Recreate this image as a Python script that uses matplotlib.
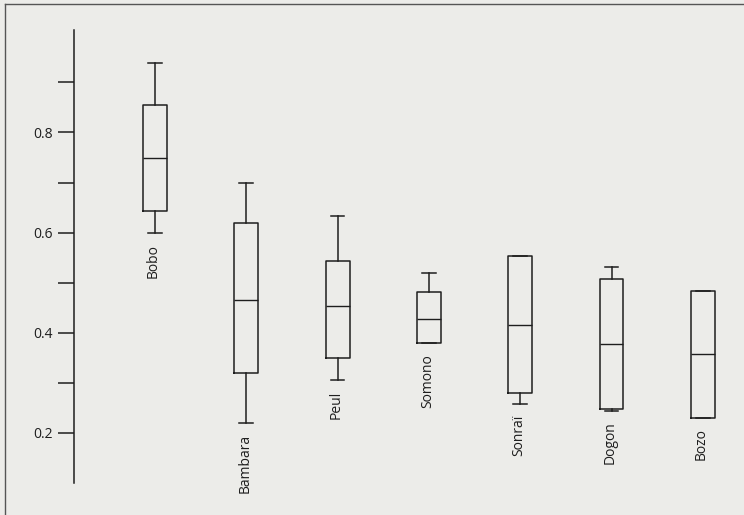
import matplotlib.pyplot as plt
from matplotlib.lines import Line2D

# ethnic groups and box statistics
groups = ["Bobo", "Bambara", "Peul", "Somono", "Sonraï", "Dogon", "Bozo"]
whisker_low = [0.599, 0.219, 0.306, 0.379, 0.257, 0.244, 0.230]
q1 = [0.642, 0.319, 0.349, 0.379, 0.280, 0.248, 0.230]
median = [0.748, 0.466, 0.454, 0.428, 0.416, 0.377, 0.357]
q3 = [0.855, 0.618, 0.543, 0.482, 0.552, 0.507, 0.483]
whisker_high = [0.940, 0.700, 0.633, 0.518, 0.552, 0.531, 0.483]

major_ticks = [0.2, 0.4, 0.6, 0.8]
minor_ticks = [0.3, 0.5, 0.7, 0.9]

bg = "#ecece9"
ink = "#1e1e1e"

plt.rcParams['font.family'] = ['Open Sans', 'DejaVu Sans']

fig = plt.figure(figsize=(7.44, 5.15), dpi=100, facecolor=bg)
ax = fig.add_axes([74 / 744, 32 / 515, 670 / 744, 453 / 515], facecolor=bg)

stats = []
for i, g in enumerate(groups):
    stats.append({
        "label": g,
        "whislo": whisker_low[i],
        "q1": q1[i],
        "med": median[i],
        "q3": q3[i],
        "whishi": whisker_high[i],
        "fliers": [],
    })

positions = list(range(1, len(groups) + 1))
line_kw = dict(color=ink, linewidth=1.1)
ax.bxp(stats, positions=positions, widths=0.26, showfliers=False,
       boxprops=line_kw, medianprops=dict(color=ink, linewidth=1.0),
       whiskerprops=line_kw, capprops=line_kw, capwidths=0.15,
       manage_ticks=False)

# group names written vertically under each box
for pos, g, lo in zip(positions, groups, whisker_low):
    ax.annotate(g, xy=(pos, lo), xytext=(-1, -8), textcoords="offset points",
                rotation=90, ha="center", va="top", fontsize=10, color=ink)

ax.set_xlim(0.113, 7.45)
ax.set_ylim(0.099, 1.005)

ax.set_yticks(major_ticks)
ax.set_yticklabels([f"{t:.1f}" for t in major_ticks])
ax.set_yticks(minor_ticks, minor=True)
ax.tick_params(axis="y", which="both", length=11.5, width=1.1, color=ink,
               labelsize=10, labelcolor=ink, pad=3.5)
ax.set_xticks([])

for side in ["top", "right", "bottom"]:
    ax.spines[side].set_visible(False)
ax.spines["left"].set_linewidth(1.1)
ax.spines["left"].set_color(ink)

# thin frame on the top and left edges of the scan
fig.add_artist(Line2D([5 / 744, 5 / 744], [0, 1 - 4 / 515],
                      transform=fig.transFigure, color="#555555", linewidth=1.0))
fig.add_artist(Line2D([5 / 744, 1], [1 - 4 / 515, 1 - 4 / 515],
                      transform=fig.transFigure, color="#555555", linewidth=1.0))

fig.savefig("out.png", dpi=100, facecolor=bg)
